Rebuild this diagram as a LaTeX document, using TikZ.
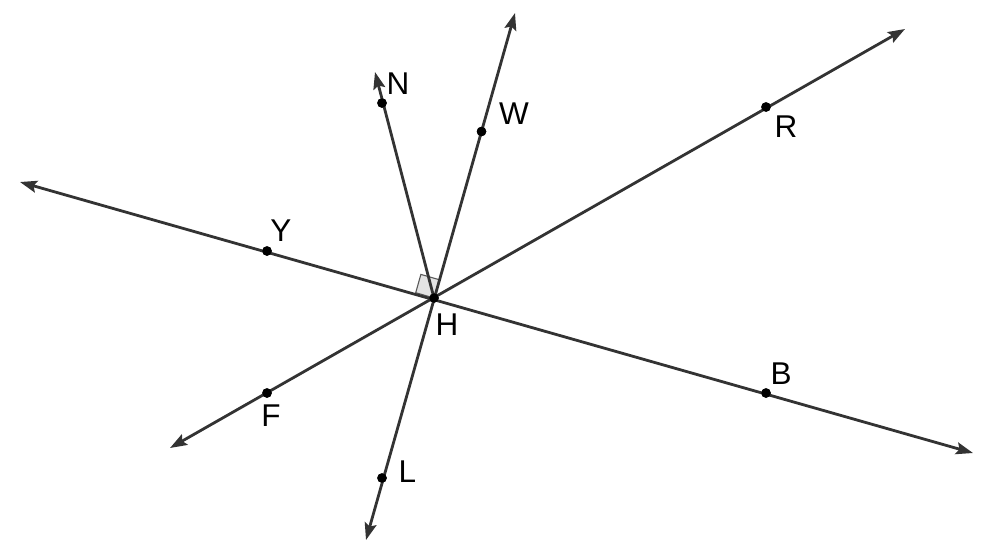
\documentclass[tikz,border=0pt]{standalone}
\usepackage{fontspec}
\setmainfont{Liberation Sans}
\usetikzlibrary{arrows.meta,positioning}
\tikzset{
    raw line/.style={line width=2.8pt, draw=black!80},
    both line/.style={raw line, {Stealth[length=17pt,width=12pt,inset=3pt]}-{Stealth[length=17pt,width=12pt,inset=3pt]}},
    ray line/.style={raw line, -{Stealth[length=17pt,width=12pt,inset=3pt]}},
    pt/.style={circle, fill=black, inner sep=0pt, minimum size=9.5pt},
    lbl/.style={font=\fontsize{31.5}{36}\selectfont, inner sep=0pt, text=black},
    right mark/.style={fill=gray!22, draw=black!65, line width=1.1pt}
}
\begin{document}
\begin{tikzpicture}[x=1pt,y=-1pt]
	\useasboundingbox (0,0) rectangle (983,552);
	% ends of the lines
	\coordinate (yEnd) at (20,182);
	\coordinate (bEnd) at (973,453);
	\coordinate (rEnd) at (905,29);
	\coordinate (fEnd) at (170,448);
	\coordinate (wEnd) at (515,13);
	\coordinate (lEnd) at (366,540);
	\coordinate (nEnd) at (375,72);
	% points
	\node[pt] (H) at (434,298) {};
	\node[pt] (Y) at (267,251) {};
	\node[pt] (B) at (766,393) {};
	\node[pt] (R) at (766,107) {};
	\node[pt] (F) at (267,393) {};
	\node[pt] (W) at (481.5,131.5) {};
	\node[pt] (L) at (382,478) {};
	\node[pt] (N) at (382,103) {};
	% right angle
	\path[right mark] (H.center) -- (415.7,292.7) -- (420.9,274.4) -- (439.2,279.7) -- cycle;
	% lines
	\draw[both line] (yEnd) -- (bEnd);
	\draw[both line] (fEnd) -- (rEnd);
	\draw[both line] (lEnd) -- (wEnd);
	\draw[ray line] (H.center) -- (nEnd);
	\foreach \p in {H,Y,B,R,F,W,L,N}
		\node[pt] at (\p) {};
	% labels
	\node[lbl] (labN) at (398,84) {N};
	\node[lbl] (labW) at (514,114) {W};
	\node[lbl] (labR) at (786,127) {R};
	\node[lbl] (labY) at (281,231) {Y};
	\node[lbl] (labH) at (447,325) {H};
	\node[lbl] (labB) at (781,374) {B};
	\node[lbl] (labF) at (271,416) {F};
	\node[lbl] (labL) at (407.5,471.5) {L};
\end{tikzpicture}
\end{document}
